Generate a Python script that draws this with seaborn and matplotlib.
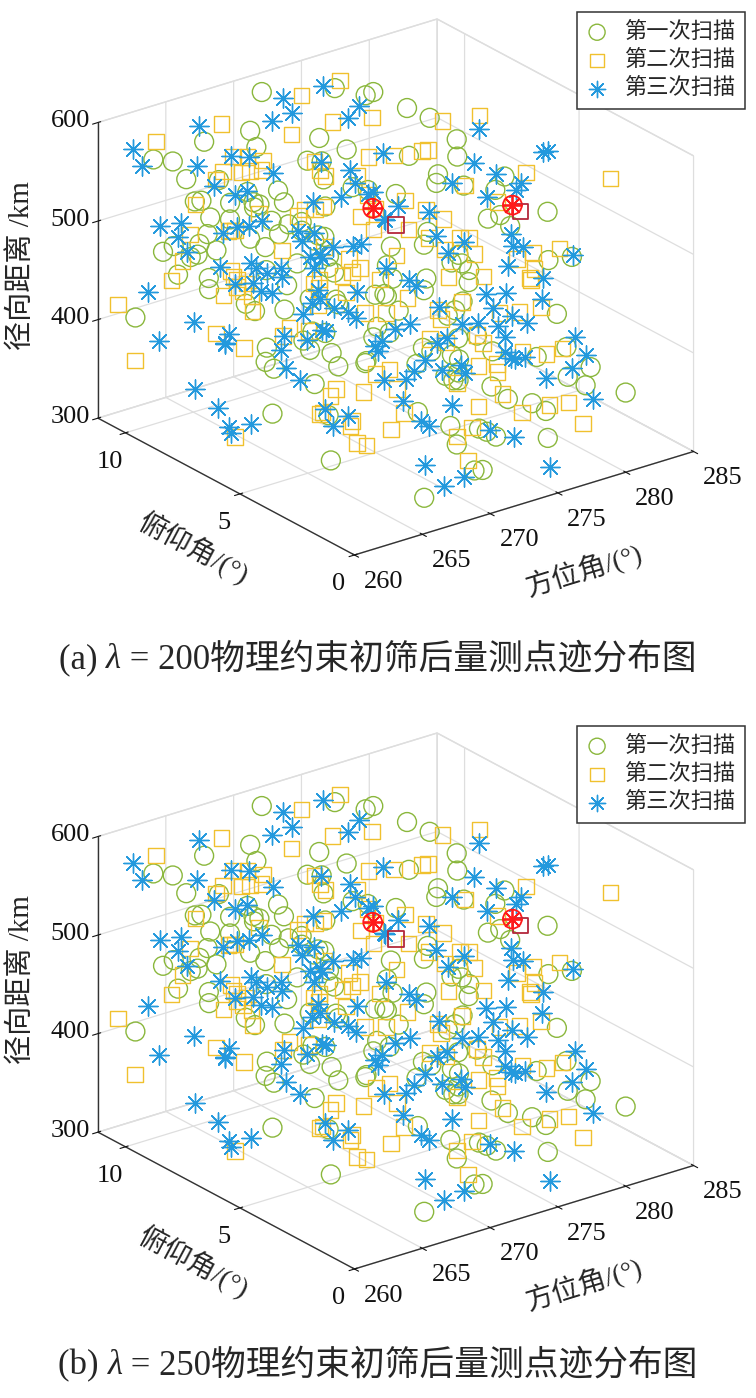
import numpy as np
import matplotlib
matplotlib.use("Agg")
import matplotlib.pyplot as plt
import seaborn as sns

# ---- data: azimuth (deg), elevation (deg), range (km) ----
circ_az = [
    263.2, 277.8, 270.1, 281.4, 266.7, 274.3, 261.9, 279.6, 268.4, 272.9,
    265.1, 279.0, 270.8, 262.6, 276.2, 269.3, 280.7, 264.4, 273.5, 267.8,
    278.9, 261.3, 271.6, 275.4, 266.0, 281.2, 269.9, 263.7, 277.1, 272.2,
    260.9, 274.8, 268.9, 281.9, 265.6, 279.1, 270.4, 264.9, 276.7, 262.1,
    273.0, 280.3, 267.2, 271.1, 278.4, 266.3, 280.2, 269.6, 261.5, 275.9,
    264.0, 272.6, 279.9, 268.0, 274.0, 262.8, 278.3, 270.0, 265.8, 277.5,
    271.9, 263.0, 276.0, 267.5, 281.0, 269.1, 273.8, 261.1, 278.0, 266.5,
    274.6, 276.9, 264.6, 270.6, 279.3, 267.0, 272.4, 262.4, 276.4, 268.6,
    281.6, 265.3, 273.3, 269.4, 263.5, 278.6, 271.3, 275.1, 266.9, 280.5,
    262.0, 274.1, 268.2, 277.3, 264.2, 270.3, 277.0, 267.7, 273.6, 265.9,
    268.3, 272.1, 275.6, 264.8, 270.5, 277.2, 266.1, 273.9, 262.9, 279.4,
    269.0, 271.4, 274.7, 265.2, 276.8, 267.9, 270.9, 263.3, 278.1, 272.8,
    266.6, 274.4, 269.7, 261.7, 275.0, 268.8, 271.8, 264.1, 277.7, 270.2,
    273.1, 267.3, 279.8, 265.6, 272.5, 276.3, 262.2, 269.2, 274.9, 266.8,
    271.0, 278.5, 264.5, 273.4, 268.1, 275.8, 263.8, 270.7, 267.0, 272.3]
circ_el = [
    9.6, 2.1, 5.4, 7.9, 1.2, 10.3, 4.0, 6.6, 8.8, 3.1,
    6.9, 4.7, 0.8, 9.9, 7.3, 2.8, 10.6, 5.9, 3.6, 8.2,
    1.7, 6.2, 9.1, 4.4, 10.9, 3.3, 7.0, 0.6, 5.6, 8.5,
    10.1, 2.4, 6.4, 9.4, 4.9, 1.0, 7.7, 3.9, 8.9, 5.1,
    0.9, 6.0, 9.7, 2.6, 4.2, 10.5, 7.5, 1.5, 5.3, 8.0,
    3.4, 10.8, 6.8, 0.5, 9.0, 4.6, 2.0, 7.2, 10.0, 5.8,
    8.4, 1.3, 3.7, 6.5, 9.3, 0.7, 4.1, 7.8, 2.3, 10.2,
    5.0, 8.7, 1.9, 9.8, 3.0, 6.1, 10.4, 4.5, 0.4, 7.4,
    2.7, 9.5, 5.5, 1.1, 8.1, 6.7, 3.5, 10.7, 4.8, 0.3,
    7.6, 2.2, 9.2, 5.7, 3.8, 8.6, 1.6, 6.3, 10.0, 4.3,
    9.2, 8.6, 10.1, 7.4, 6.3, 9.7, 8.0, 5.2, 10.5, 7.0,
    3.4, 10.8, 6.9, 9.0, 4.6, 8.3, 2.2, 6.7, 9.9, 1.4,
    7.8, 5.5, 10.3, 8.9, 2.9, 6.1, 4.0, 9.4, 7.2, 0.8,
    8.1, 3.8, 5.9, 10.0, 6.5, 1.9, 7.6, 9.6, 4.3, 8.7,
    5.1, 3.0, 10.6, 2.5, 7.1, 6.0, 9.1, 4.8, 1.1, 8.4]
circ_rng = [
    452, 318, 561, 487, 402, 339, 578, 425, 366, 512,
    389, 546, 331, 474, 595, 420, 362, 534, 447, 309,
    502, 575, 356, 438, 521, 381, 463, 590, 344, 497,
    412, 553, 325, 469, 540, 398, 584, 436, 351, 517,
    568, 347, 490, 403, 329, 459, 544, 372, 586, 428,
    337, 483, 409, 557, 321, 505, 443, 394, 571, 353,
    527, 466, 312, 588, 377, 549, 434, 501, 342, 416,
    563, 386, 478, 323, 530, 455, 368, 592, 407, 510,
    348, 441, 581, 359, 494, 316, 537, 423, 466, 375,
    523, 584, 399, 334, 558, 446, 508, 363, 327, 481,
    565, 542, 583, 509, 551, 574, 528, 492, 559, 536,
    468, 588, 519, 547, 395, 503, 430, 458, 571, 349,
    488, 440, 562, 496, 372, 474, 411, 525, 580, 333,
    556, 419, 485, 512, 431, 362, 539, 498, 404, 532,
    453, 386, 549, 341, 507, 366, 476, 421, 315, 447]

sq_az = [
    262.3, 278.4, 269.7, 274.9, 265.5, 281.2, 270.9, 263.9, 276.6, 268.1,
    280.4, 266.2, 273.1, 261.7, 277.9, 271.5, 264.7, 279.2, 269.0, 275.6,
    267.4, 279.8, 262.9, 272.7, 266.8, 281.7, 270.2, 264.1, 276.9, 273.9,
    260.8, 278.1, 268.7, 278.0, 265.0, 274.5, 271.8, 263.4, 279.4, 267.9,
    275.2, 262.5, 280.9, 269.8, 266.4, 277.0, 272.3, 264.8, 280.1, 270.7,
    273.4, 261.4, 278.7, 267.1, 275.8, 263.1, 281.3, 268.3, 265.2, 276.3,
    271.2, 279.0, 264.3, 272.8, 266.1, 281.0, 269.5, 262.7, 277.6, 274.2,
    267.6, 280.0, 270.5, 265.7, 274.7, 261.8, 278.2, 268.5, 276.1, 263.6,
    278.9, 271.0, 266.6, 273.7, 264.5, 279.5, 269.2, 275.3, 262.2, 277.4,
    266.9, 271.3, 274.0, 263.7, 269.4, 276.5, 265.9, 272.6, 268.0, 278.8,
    270.1, 273.6, 262.6, 267.7, 275.4, 264.4, 271.9, 269.9, 277.3, 266.3,
    273.0, 268.6, 261.9, 275.9, 270.6, 264.9, 272.2, 279.3, 267.2, 274.6,
    263.0, 269.1, 276.0, 265.4, 271.6, 268.9, 273.3, 266.0, 270.4, 277.8,
    264.0, 272.9, 267.5, 275.1, 269.6]
sq_el = [
    8.3, 3.2, 10.2, 5.7, 1.4, 7.1, 4.3, 9.5, 2.5, 6.3,
    0.9, 8.8, 3.8, 10.6, 6.0, 1.8, 7.6, 4.9, 9.9, 2.9,
    5.2, 10.0, 0.6, 7.9, 3.5, 6.6, 9.2, 1.6, 4.6, 8.1,
    10.8, 2.2, 6.9, 3.0, 9.0, 0.8, 5.4, 7.4, 4.0, 10.4,
    1.9, 6.7, 8.5, 3.6, 0.5, 9.6, 5.9, 2.6, 7.2, 4.5,
    10.1, 3.3, 1.1, 8.7, 6.4, 2.0, 9.4, 4.8, 7.8, 0.7,
    5.1, 8.9, 3.9, 10.7, 1.3, 6.8, 2.4, 9.1, 4.2, 7.5,
    0.4, 5.6, 8.0, 3.1, 10.3, 6.2, 1.7, 9.7, 4.4, 7.0,
    2.8, 10.5, 5.3, 0.9, 8.4, 3.4, 6.5, 1.2, 9.3, 4.7,
    9.4, 8.2, 10.6, 7.7, 5.8, 9.0, 3.1, 6.9, 8.8, 7.3,
    1.5, 4.4, 10.2, 6.1, 8.5, 2.7, 9.8, 0.9, 5.0, 7.9,
    3.7, 10.9, 6.4, 2.1, 8.0, 4.9, 1.8, 6.6, 9.2, 3.3,
    7.0, 5.5, 10.1, 8.6, 2.4, 6.8, 4.1, 9.6, 7.5, 1.2,
    5.2, 8.9, 3.5, 9.9, 6.2]
sq_rng = [
    543, 462, 380, 517, 428, 569, 345, 491, 406, 331,
    585, 437, 508, 359, 472, 551, 396, 322, 529, 444,
    373, 498, 560, 415, 339, 485, 452, 593, 364, 526,
    417, 349, 577, 468, 392, 536, 311, 482, 557, 401,
    513, 326, 448, 574, 486, 355, 421, 539, 383, 503,
    469, 597, 341, 425, 564, 393, 505, 319, 457, 534,
    378, 440, 587, 336, 519, 410, 552, 474, 368, 499,
    545, 332, 432, 581, 364, 495, 412, 548, 307, 466,
    390, 524, 351, 478, 566, 427, 342, 511, 454, 384,
    559, 541, 576, 518, 489, 563, 402, 527, 548, 571,
    359, 437, 582, 463, 534, 384, 555, 343, 471, 522,
    415, 566, 495, 352, 507, 446, 377, 512, 544, 421,
    530, 481, 589, 500, 396, 458, 433, 537, 476, 365,
    449, 520, 409, 553, 466]

st_az = [
    261.2, 275.7, 268.8, 280.1, 264.6, 272.0, 277.7, 266.3, 280.5, 270.7,
    263.3, 278.9, 269.5, 274.4, 261.6, 279.5, 267.3, 272.6, 265.4, 276.8,
    270.0, 262.7, 279.2, 268.2, 275.0, 264.0, 277.4, 271.4, 266.9, 273.7,
    260.7, 277.2, 269.1, 280.8, 265.0, 272.9, 263.8, 278.3, 267.6, 274.6,
    281.5, 262.2, 270.4, 276.1, 268.5, 264.3, 279.7, 271.7, 266.0, 273.2,
    278.1, 261.0, 275.5, 269.3, 277.6, 263.1, 280.3, 267.0, 272.1, 265.7,
    274.0, 262.9, 278.5, 270.8, 266.6, 277.3, 268.9, 273.5, 264.9, 276.5,
    261.4, 279.1, 271.0, 267.8, 275.3, 263.5, 278.6, 269.8, 265.2, 274.8,
    272.5, 277.9, 262.4, 270.3, 279.8, 266.4, 273.0, 264.4, 278.8, 268.0,
    276.0, 261.8, 280.6, 269.6, 274.3, 263.0, 271.8, 279.4, 265.9, 267.2,
    267.4, 271.7, 274.9, 264.2, 270.0, 276.4, 265.8, 273.0, 262.4, 278.7,
    268.6, 272.3, 275.8, 263.6, 269.9, 277.0, 266.2, 271.1, 273.8, 267.9,
    264.7, 270.6, 274.2, 261.5, 268.1, 272.8, 276.9, 265.3, 269.4, 273.4,
    266.8, 271.4, 275.2, 263.9, 270.3, 278.0, 267.1, 272.0, 264.9, 269.0,
    274.5, 266.4, 271.9, 262.8, 268.4, 273.6, 276.1, 265.0, 270.8, 267.6]
st_el = [
    10.4, 3.9, 7.0, 1.5, 8.6, 5.2, 9.3, 2.7, 6.1, 0.6,
    4.4, 10.9, 8.0, 1.9, 6.6, 3.1, 9.8, 0.9, 5.5, 7.7,
    2.3, 10.1, 4.8, 8.4, 0.5, 6.9, 3.6, 9.5, 1.2, 7.3,
    5.9, 2.0, 10.6, 4.1, 8.9, 0.8, 6.3, 3.4, 9.1, 1.7,
    7.5, 10.3, 2.9, 5.7, 0.4, 8.2, 4.6, 9.9, 6.7, 1.0,
    3.2, 7.9, 10.7, 0.7, 5.0, 8.8, 2.5, 6.2, 9.4, 4.3,
    1.4, 7.1, 3.7, 10.0, 5.4, 0.6, 8.5, 2.2, 6.0, 9.7,
    4.9, 1.8, 8.3, 3.3, 10.5, 6.5, 0.9, 7.6, 4.0, 2.6,
    9.0, 5.8, 1.3, 7.4, 3.5, 10.8, 6.4, 0.5, 8.7, 4.7,
    2.1, 9.6, 5.3, 1.6, 7.2, 3.0, 10.2, 6.8, 0.8, 8.1,
    9.0, 8.4, 10.2, 7.6, 6.0, 9.5, 5.3, 7.9, 10.7, 6.8,
    4.2, 10.4, 8.1, 9.7, 2.6, 6.5, 8.9, 3.5, 5.8, 1.6,
    7.3, 9.9, 4.7, 8.6, 0.9, 6.2, 3.0, 10.0, 7.0, 2.0,
    8.7, 5.0, 9.3, 6.6, 1.3, 4.4, 9.6, 7.7, 3.2, 5.6,
    8.0, 10.6, 2.8, 7.4, 6.9, 4.0, 1.0, 9.1, 3.8, 5.4]
st_rng = [
    578, 421, 503, 355, 466, 539, 327, 447, 389, 512,
    560, 401, 338, 482, 426, 590, 372, 457, 528, 313,
    445, 497, 366, 549, 410, 331, 476, 583, 392, 520,
    354, 463, 405, 571, 318, 436, 545, 382, 489, 337,
    514, 430, 568, 349, 452, 395, 531, 318, 474, 558,
    420, 505, 362, 437, 596, 346, 488, 412, 377, 535,
    466, 324, 554, 397, 511, 441, 365, 579, 427, 351,
    501, 387, 442, 566, 334, 481, 414, 523, 359, 592,
    405, 470, 541, 313, 455, 376, 507, 432, 348, 586,
    519, 391, 461, 546, 328, 477, 415, 369, 538, 455,
    561, 545, 587, 521, 497, 569, 466, 538, 552, 515,
    424, 583, 541, 502, 357, 472, 529, 408, 449, 338,
    486, 573, 434, 510, 325, 461, 391, 548, 475, 346,
    533, 419, 564, 493, 320, 402, 556, 517, 381, 439,
    506, 577, 367, 523, 482, 413, 309, 541, 394, 452]

# two true targets (red)
tgt_az = [270.8, 281.1]
tgt_el = [5.6, 5.6]
tgt_rng = [537, 497]
tgt_sq_az = [272.5, 281.7]
tgt_sq_el = [5.6, 5.6]
tgt_sq_rng = [513, 488]

legend_labels = ["第一次扫描", "第二次扫描", "第三次扫描"]
caption_parts = [[("(a) ", "normal"), ("λ", "italic"), (" = 200物理约束初筛后量测点迹分布图", "normal")],
                 [("(b) ", "normal"), ("λ", "italic"), (" = 250物理约束初筛后量测点迹分布图", "normal")]]
az_ticks = [260, 265, 270, 275, 280, 285]
el_ticks = [0, 5, 10]
rng_ticks = [300, 400, 500, 600]

# ---- style ----
sns.set_style("white")
plt.rcParams['font.family'] = ['Liberation Serif', 'Noto Sans CJK SC', 'DejaVu Sans']
plt.rcParams['grid.color'] = '#dedede'
plt.rcParams['grid.linewidth'] = 0.9
pal = sns.color_palette(['#8ab73c', '#f0c12e', '#2399dd'])
red, dark_red = '#ff1a1a', '#b3283c'

W, H = 756, 1398
fig = plt.figure(figsize=(W / 100, H / 100), dpi=100)

corners = [(260, 0, 300), (260, 11.2, 600), (285, 0, 300)]


def draw_panel(rect, shift):
    ax = fig.add_axes(rect, projection='3d')
    ax.set_proj_type('ortho')
    ax.view_init(elev=23.8, azim=-127.1)
    ax.set_box_aspect((1, 1, 0.76))
    ax.computed_zorder = False

    h1 = ax.scatter(circ_az, circ_el, circ_rng, marker='o', s=185, facecolors='none',
                    edgecolors=pal[0], linewidths=1.0, depthshade=False)
    h2 = ax.scatter(sq_az, sq_el, sq_rng, marker='s', s=125, facecolors='none',
                    edgecolors=pal[1], linewidths=1.0, depthshade=False)
    h3 = ax.scatter(st_az, st_el, st_rng, marker=(8, 2, 0), s=190, c=[pal[2]],
                    linewidths=1.0, depthshade=False)
    ax.scatter(tgt_az, tgt_el, tgt_rng, marker='o', s=185, facecolors='none',
               edgecolors=red, linewidths=1.3, depthshade=False)
    ax.scatter(tgt_sq_az, tgt_sq_el, tgt_sq_rng, marker='s', s=125, facecolors='none',
               edgecolors=dark_red, linewidths=1.3, depthshade=False)
    ax.scatter(tgt_az, tgt_el, tgt_rng, marker=(8, 2, 0), s=190, c=red,
               linewidths=1.3, depthshade=False)

    ax.set_xlim(260, 285)
    ax.set_ylim(0, 11.2)
    ax.set_zlim(300, 600)
    ax.set_xticks(az_ticks)
    ax.set_yticks(el_ticks)
    ax.set_zticks(rng_ticks)
    ax.tick_params(axis='both', labelsize=19, colors='#111111')
    ax.tick_params(axis='z', labelsize=19, colors='#111111')
    ax.tick_params(axis='x', pad=1)
    plt.setp(ax.get_xticklabels(), ha='left')
    plt.setp(ax.get_zticklabels(), va='center')
    for axis in (ax.xaxis, ax.yaxis, ax.zaxis):
        axis.set_pane_color((1, 1, 1, 1))
        axis.pane.set_edgecolor('#dedede')
        axis.line.set_color('#333333')
        axis.line.set_linewidth(1.0)

    leg = ax.legend([h1, h2, h3], legend_labels, loc='upper right',
                    bbox_to_anchor=(745 / W, 1 - (12 + shift) / H),
                    bbox_transform=fig.transFigure, fontsize=16, frameon=True,
                    fancybox=False, edgecolor='#333333', framealpha=1,
                    borderpad=0.45, labelspacing=0.32, handletextpad=0.75,
                    handlelength=0.9, borderaxespad=0, markerscale=0.85)
    leg.get_frame().set_linewidth(1.1)

    # fit the box to the reference corner positions
    targets = [(355, 555 + shift), (98, 122 + shift), (693, 452 + shift)]
    fig.canvas.draw()
    M = ax.get_proj()
    cur = []
    for c in corners:
        v = M @ np.array([c[0], c[1], c[2], 1.0])
        cur.append(ax.transData.transform((v[0] / v[3], v[1] / v[3])))
    cur = np.array(cur)
    tgt = np.array([(x, H - y) for x, y in targets], dtype=float)
    k = np.linalg.norm(tgt[1] - tgt[2]) / np.linalg.norm(cur[1] - cur[2])
    bb = ax.get_position().transformed(fig.transFigure)
    ctr = np.array([(bb.x0 + bb.x1) / 2, (bb.y0 + bb.y1) / 2])
    new_ctr = (tgt - k * (cur - ctr)).mean(axis=0)
    w, h = bb.width * k, bb.height * k
    ax.set_position([(new_ctr[0] - w / 2) / W, (new_ctr[1] - h / 2) / H, w / W, h / H])

    # axis labels
    fig.text(22 / W, 1 - (266 + shift) / H, "径向距离 /km", rotation=90,
             ha='center', va='center', fontsize=21, rotation_mode='anchor')
    fig.text(193 / W, 1 - (548 + shift) / H, "俯仰角/(°)", rotation=-28,
             ha='center', va='center', fontsize=20, rotation_mode='anchor')
    fig.text(584 / W, 1 - (570 + shift) / H, "方位角/(°)", rotation=17,
             ha='center', va='center', fontsize=20, rotation_mode='anchor')
    return ax


def add_caption(y_px, parts):
    r = fig.canvas.get_renderer()
    texts = [fig.text(0, 1 - y_px / H, s, fontsize=25, style=st, ha='left', va='center')
             for s, st in parts]
    widths = [t.get_window_extent(r).width for t in texts]
    x = (W - sum(widths)) / 2
    for t, w in zip(texts, widths):
        t.set_x(x / W)
        x += w


draw_panel([0.05, 0.55, 0.9, 0.45], 0)
draw_panel([0.05, 0.05, 0.9, 0.45], 714)
add_caption(660, caption_parts[0])
add_caption(1366, caption_parts[1])

fig.savefig("out.png", dpi=100, facecolor='white')
